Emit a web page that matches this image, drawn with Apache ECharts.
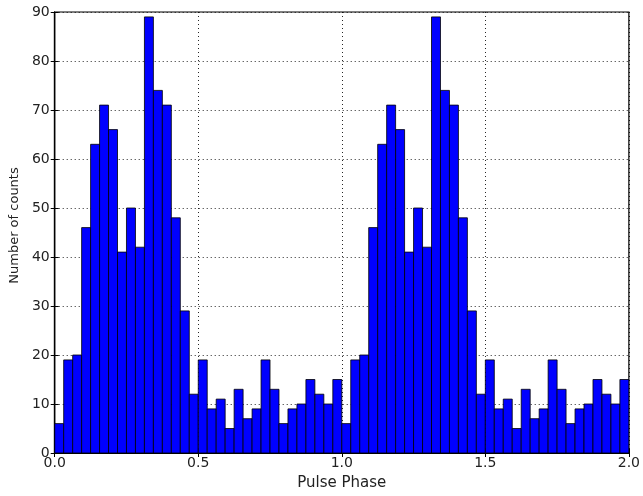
<!DOCTYPE html>
<html>
<head>
<meta charset="utf-8">
<script src="https://cdn.jsdelivr.net/npm/echarts@6/dist/echarts.min.js"></script>
<style>html,body{margin:0;padding:0;background:#fff}#c{width:643px;height:496px}</style>
</head>
<body>
<div id="c"></div>
<script>
// Histogram of pulse phase: 32 bins per phase, shown over two cycles (0 to 2.0)
const binsPerCycle = 32;
const counts = [
  6, 19, 20, 46, 63, 71, 66, 41, 50, 42, 89, 74, 71, 48, 29, 12,
  19, 9, 11, 5, 13, 7, 9, 19, 13, 6, 9, 10, 15, 12, 10, 15,
  6, 19, 20, 46, 63, 71, 66, 41, 50, 42, 89, 74, 71, 48, 29, 12,
  19, 9, 11, 5, 13, 7, 9, 19, 13, 6, 9, 10, 15, 12, 10, 15
];
const xTicks = ['0.0', '0.5', '1.0', '1.5', '2.0'];
const yTicks = [0, 10, 20, 30, 40, 50, 60, 70, 80, 90];
const xTitle = 'Pulse Phase';
const yTitle = 'Number of counts';

const binData = counts.map((c, i) => [i / binsPerCycle, (i + 1) / binsPerCycle, c]);

const FONT = 'DejaVu Sans';
const txt = '#222';
const chart = echarts.init(document.getElementById('c'), null, {renderer: 'canvas'});
const dotted = {color: '#000', width: 1, type: [1, 3], opacity: 0.85};
chart.setOption({
  animation: false,
  backgroundColor: '#fff',
  grid: {left: 51, right: 12, top: 12, bottom: 35, show: true, borderColor: '#000', borderWidth: 1.2, backgroundColor: 'transparent'},
  xAxis: [{
    type: 'value', min: 0, max: 2, interval: 0.5,
    name: xTitle, nameLocation: 'middle', nameGap: 23,
    nameTextStyle: {fontFamily: FONT, fontSize: 15, color: txt},
    axisLine: {show: true, lineStyle: {color: '#000', width: 1.2}},
    axisTick: {show: true, inside: true, length: 4, lineStyle: {color: '#000'}},
    axisLabel: {fontFamily: FONT, fontSize: 14, color: txt, margin: 3,
      formatter: v => xTicks[Math.round(v / 0.5)]},
    splitLine: {show: true, lineStyle: dotted}
  }, {
    type: 'value', min: 0, max: 2, interval: 0.5, position: 'top',
    axisLine: {show: true, lineStyle: {color: '#000', width: 1.2}},
    axisTick: {show: true, inside: true, length: 4, lineStyle: {color: '#000'}},
    axisLabel: {show: false}, splitLine: {show: false}
  }],
  yAxis: [{
    type: 'value', min: 0, max: 90, interval: 10,
    name: yTitle, nameLocation: 'middle', nameGap: 32,
    nameTextStyle: {fontFamily: FONT, fontSize: 13, color: txt, padding: [0, 0, 0, 14]},
    axisLine: {show: true, lineStyle: {color: '#000', width: 1.2}},
    axisTick: {show: true, inside: true, length: 4, lineStyle: {color: '#000'}},
    axisLabel: {fontFamily: FONT, fontSize: 14, color: txt, margin: 5,
      formatter: v => String(yTicks[Math.round(v / 10)])},
    splitLine: {show: true, lineStyle: dotted}
  }, {
    type: 'value', min: 0, max: 90, interval: 10, position: 'right',
    axisLine: {show: true, lineStyle: {color: '#000', width: 1.2}},
    axisTick: {show: true, inside: true, length: 4, lineStyle: {color: '#000'}},
    axisLabel: {show: false}, splitLine: {show: false}
  }],
  series: [{
    type: 'custom',
    xAxisIndex: 0, yAxisIndex: 0,
    data: binData,
    encode: {x: [0, 1], y: 2},
    renderItem: function (params, api) {
      const s = api.coord([api.value(0), 0]);
      const e = api.coord([api.value(1), api.value(2)]);
      return {
        type: 'rect',
        shape: {x: s[0], y: e[1], width: e[0] - s[0], height: s[1] - e[1]},
        style: {fill: '#0000ff', stroke: '#000', lineWidth: 0.8}
      };
    }
  }]
});
</script>
</body>
</html>
